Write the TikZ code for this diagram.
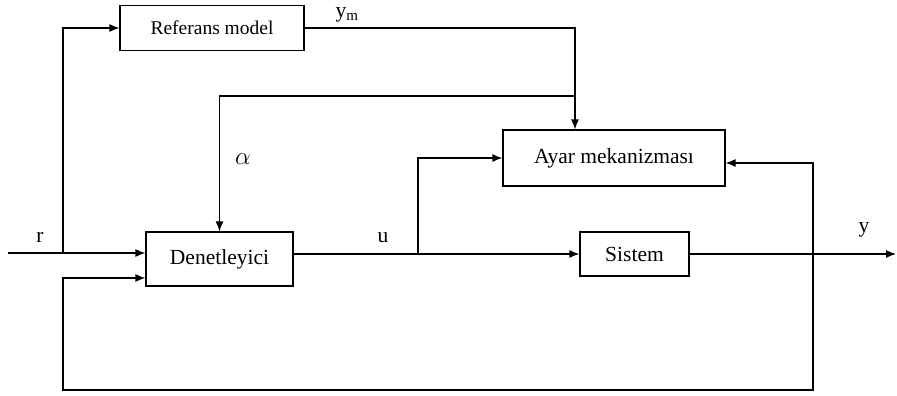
\documentclass[tikz,border=0pt]{standalone}
\usepackage{fontspec}
\setmainfont{Liberation Serif}
\usetikzlibrary{arrows.meta}

\begin{document}
\begin{tikzpicture}[x=1pt,y=-1pt,line width=1.2pt,
        >={Latex[length=10pt,width=8pt]},
        block/.style={draw,rectangle,inner sep=0pt,font=\fontsize{21.5}{24}\selectfont},
        lbl/.style={font=\fontsize{21.5}{24}\selectfont}]
        \useasboundingbox (0,0) rectangle (897,396);

        \node[block,minimum width=184pt,minimum height=45pt,font=\fontsize{19.5}{22}\selectfont] (ref) at (212,28) {Referans model};
        \node[block,minimum width=222pt,minimum height=56pt] (ayar) at (614,158) {Ayar mekanizması};
        \node[block,minimum width=147pt,minimum height=54pt] (den) at (219.5,259) {Denetleyici};
        \node[block,minimum width=109pt,minimum height=44pt] (sis) at (634.5,254) {Sistem};

        \coordinate (rin) at (8,253);
        \coordinate (rj) at (63,253);
        \coordinate (ymj) at (575,96);
        \coordinate (uj) at (418,254);
        \coordinate (yj) at (813,254);
        \coordinate (yout) at (896,254);
        \coordinate (fb1) at (813,390);
        \coordinate (fb2) at (63,390);
        \coordinate (fb3) at (63,278);

        \draw[->] (rin) -- (rin -| den.west);
        \draw[->] (rj) |- (ref.west);
        \draw[->] (ref.east) -| (ymj) -- (ymj |- ayar.north);
        \draw[->] (ymj) -| (den.north);

        \draw[->] (den.east |- sis.west) -- (sis.west);
        \draw[->] (uj) |- (ayar.west);
        \draw[->] (sis.east) -- (yout);

        \draw[->] (yj) |- ([yshift=-5pt]ayar.east);
        \draw[->] (yj) -- (fb1) -- (fb2) -- (fb3) -- (fb3 -| den.west);

        \node[lbl] (rlbl) at (40,237) {r};
        \node[lbl] (ulbl) at (383,238) {u};
        \node[lbl] (ylbl) at (864,230) {y};
        \node[lbl] (ymlbl) at (347,15) {y\textsubscript{m}};
        \node[lbl,font=\fontsize{26}{28}\selectfont] (albl) at (243,159) {$\alpha$};
\end{tikzpicture}
\end{document}
